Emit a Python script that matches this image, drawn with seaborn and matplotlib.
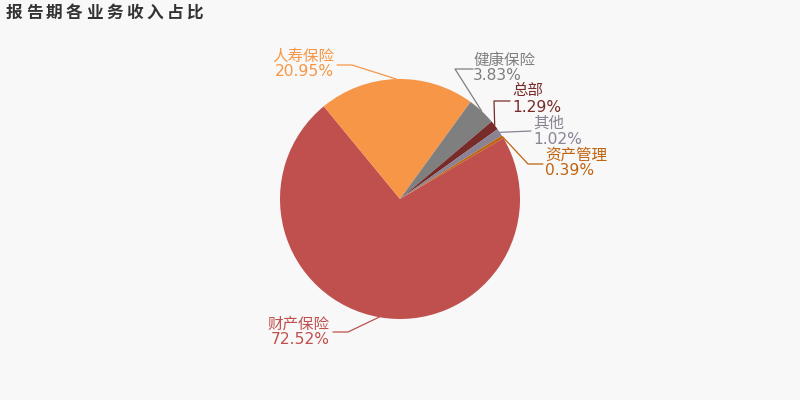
import matplotlib
matplotlib.use("Agg")
import numpy as np
import matplotlib.pyplot as plt
import seaborn as sns

# data
labels = ["财产保险", "人寿保险", "健康保险", "总部", "其他", "资产管理"]
shares = [72.52, 20.95, 3.83, 1.29, 1.02, 0.39]
colors = ["#c0504d", "#f79646", "#7f7f7f", "#772c2a", "#8b8394", "#c0630f"]
title = "报告期各业务收入占比"

# leader line bends and label anchors, in pixels from the top-left corner
layout = {
    "财产保险": dict(path=[(348, 332), (333, 332)], x=330, y=(324, 340), ha="right"),
    "人寿保险": dict(path=[(352, 65), (337, 65)], x=334, y=(56, 71), ha="right"),
    "健康保险": dict(path=[(455, 69), (473, 69)], x=473, y=(60, 75), ha="left"),
    "总部": dict(path=[(494, 101), (510, 101)], x=512, y=(91, 107), ha="left"),
    "其他": dict(path=[(531, 131)], x=533, y=(123, 140), ha="left"),
    "资产管理": dict(path=[(528, 164), (543, 164)], x=545, y=(155, 170), ha="left"),
}

W, H = 800, 400
cx, cy, r = 400, 199, 120
bg = "#f8f8f8"

sns.set_theme(style="white")
plt.rcParams["font.family"] = ["DejaVu Sans", "Noto Sans CJK SC"]

fig = plt.figure(figsize=(W / 100, H / 100), dpi=100, facecolor=bg)
ax = fig.add_axes([(cx - r) / W, (H - cy - r) / H, 2 * r / W, 2 * r / H])
ax.set_facecolor(bg)

wedges, _ = ax.pie(shares, colors=sns.color_palette(colors), startangle=30.5,
                   counterclock=False, radius=1, wedgeprops=dict(linewidth=0))
ax.set_xlim(-1, 1)
ax.set_ylim(-1, 1)
ax.axis("off")


def to_data(px, py):
    return (px - cx) / r, (cy - py) / r


for w, name, pct, col in zip(wedges, labels, shares, colors):
    mid = np.deg2rad((w.theta1 + w.theta2) / 2)
    pts = [(np.cos(mid), np.sin(mid))] + [to_data(*p) for p in layout[name]["path"]]
    xs, ys = zip(*pts)
    ax.plot(xs, ys, color=col, lw=0.9, clip_on=False)

    lay = layout[name]
    fig.text(lay["x"] / W, 1 - lay["y"][0] / H, name, color=col, fontsize=11.2,
             ha=lay["ha"], va="center")
    fig.text(lay["x"] / W, 1 - lay["y"][1] / H, f"{pct:.2f}%", color=col, fontsize=11.2,
             ha=lay["ha"], va="center")

# title, drawn char by char to get the wide letter spacing
for i, ch in enumerate(title):
    fig.text((14 + i * 20.1) / W, 1 - 13 / H, ch, fontsize=12, fontweight="bold",
             color="#333333", ha="center", va="center",
             family=["Noto Sans CJK SC", "DejaVu Sans"])

fig.savefig("out.png", dpi=100, facecolor=bg)
